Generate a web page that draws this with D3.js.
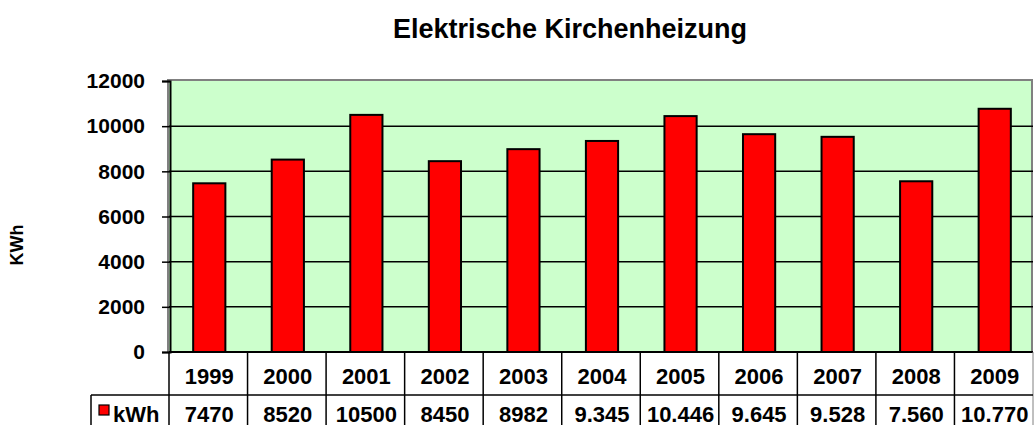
<!DOCTYPE html>
<meta charset="utf-8">
<html>
<head>
<style>
  body { margin: 0; background: #fff; }
  svg text { font-family: "Liberation Sans", Arial, sans-serif; font-weight: bold; fill: #000; }
</style>
</head>
<body>
<svg id="chart" width="1034" height="425"></svg>
<script src="https://cdn.jsdelivr.net/npm/d3@7"></script>
<script>

var years = ["1999","2000","2001","2002","2003","2004","2005","2006","2007","2008","2009"];
var kwh = [7470, 8520, 10500, 8450, 8982, 9345, 10446, 9645, 9528, 7560, 10770];
// as printed in the data table under the chart
var kwhLabels = ["7470","8520","10500","8450","8982","9.345","10.446","9.645","9.528","7.560","10.770"];
var yTicks = [0, 2000, 4000, 6000, 8000, 10000, 12000];

var svg = d3.select("#chart");

var plotL = 169, plotR = 1033, plotT = 80, plotB = 352;
var rowH = 43;

var x = d3.scaleBand().domain(years).range([plotL, plotR]).padding(0);
var y = d3.scaleLinear().domain([0, 12000]).range([plotB, plotT + 1]);

// title
svg.append("text")
    .attr("x", 570).attr("y", 38)
    .attr("text-anchor", "middle")
    .style("font-size", "27px")
    .text("Elektrische Kirchenheizung");

// y title
svg.append("text")
    .attr("transform", "translate(23,245) rotate(-90)")
    .attr("text-anchor", "middle")
    .style("font-size", "18px")
    .text("KWh");

// plot area
svg.append("rect")
    .attr("x", plotL - 1).attr("y", plotT)
    .attr("width", plotR - plotL).attr("height", plotB - plotT)
    .attr("fill", "#ccffcc")
    .attr("stroke", "#808080")
    .attr("stroke-width", 2);

// gridlines
svg.append("g")
  .selectAll("line")
  .data(yTicks.slice(1, -1))
  .enter().append("line")
    .attr("x1", plotL).attr("x2", plotR)
    .attr("y1", function(d) { return y(d); })
    .attr("y2", function(d) { return y(d); })
    .attr("stroke", "#000")
    .attr("stroke-width", 1.5);

// bars
var bw = x.bandwidth() * 0.41;
svg.append("g")
  .selectAll("rect")
  .data(kwh)
  .enter().append("rect")
    .attr("x", function(d, i) { return x(years[i]) + x.bandwidth() / 2 - bw / 2 + 1; })
    .attr("y", function(d) { return y(d); })
    .attr("width", bw)
    .attr("height", function(d) { return plotB - y(d); })
    .attr("fill", "#ff0000")
    .attr("stroke", "#000")
    .attr("stroke-width", 2);

// y axis
var yAxis = d3.axisLeft(y)
    .tickValues(yTicks)
    .tickFormat(d3.format("d"))
    .tickSize(8)
    .tickPadding(17);

var ga = svg.append("g")
    .attr("transform", "translate(" + (plotL + 1) + ",0)")
    .call(yAxis);
ga.select(".domain").attr("stroke", "#000").attr("stroke-width", 2);
ga.selectAll(".tick line").attr("stroke", "#000").attr("stroke-width", 1.5);
ga.selectAll(".tick text")
    .style("font-size", "21px")
    .style("font-family", "'Liberation Sans', Arial, sans-serif")
    .style("font-weight", "bold")
    .attr("fill", "#000");

// zero line / table top
svg.append("line")
    .attr("x1", plotL).attr("x2", plotR)
    .attr("y1", plotB).attr("y2", plotB)
    .attr("stroke", "#000").attr("stroke-width", 2);

// data table
var table = svg.append("g");
table.selectAll("line.v")
  .data(years.concat(["end"]))
  .enter().append("line")
    .attr("class", "v")
    .attr("x1", function(d, i) { return i < years.length ? x(d) : plotR; })
    .attr("x2", function(d, i) { return i < years.length ? x(d) : plotR; })
    .attr("y1", plotB).attr("y2", 425)
    .attr("stroke", function(d, i) { return i < years.length ? "#000" : "#808080"; })
    .attr("stroke-width", function(d, i) { return i < years.length ? 1.5 : 1; });

table.append("line")
    .attr("x1", 91).attr("x2", plotR)
    .attr("y1", plotB + rowH).attr("y2", plotB + rowH)
    .attr("stroke", "#000").attr("stroke-width", 1.5);
table.append("line")
    .attr("x1", 91).attr("x2", 91)
    .attr("y1", plotB + rowH).attr("y2", 425)
    .attr("stroke", "#000").attr("stroke-width", 1.5);

table.selectAll("text.year")
  .data(years)
  .enter().append("text")
    .attr("class", "year")
    .attr("x", function(d) { return x(d) + x.bandwidth() / 2 + 1; })
    .attr("y", 384)
    .attr("text-anchor", "middle")
    .style("font-size", "22px")
    .text(function(d) { return d; });

table.selectAll("text.val")
  .data(kwhLabels)
  .enter().append("text")
    .attr("class", "val")
    .attr("x", function(d, i) { return x(years[i]) + x.bandwidth() / 2 + 1; })
    .attr("y", 422)
    .attr("text-anchor", "middle")
    .style("font-size", "22px")
    .text(function(d) { return d; });

// legend key in table
table.append("rect")
    .attr("x", 99).attr("y", 405)
    .attr("width", 10).attr("height", 10)
    .attr("fill", "#ff0000")
    .attr("stroke", "#000").attr("stroke-width", 1.2);
table.append("text")
    .attr("x", 113).attr("y", 422)
    .style("font-size", "22px")
    .text("kWh");

</script>
</body>
</html>
